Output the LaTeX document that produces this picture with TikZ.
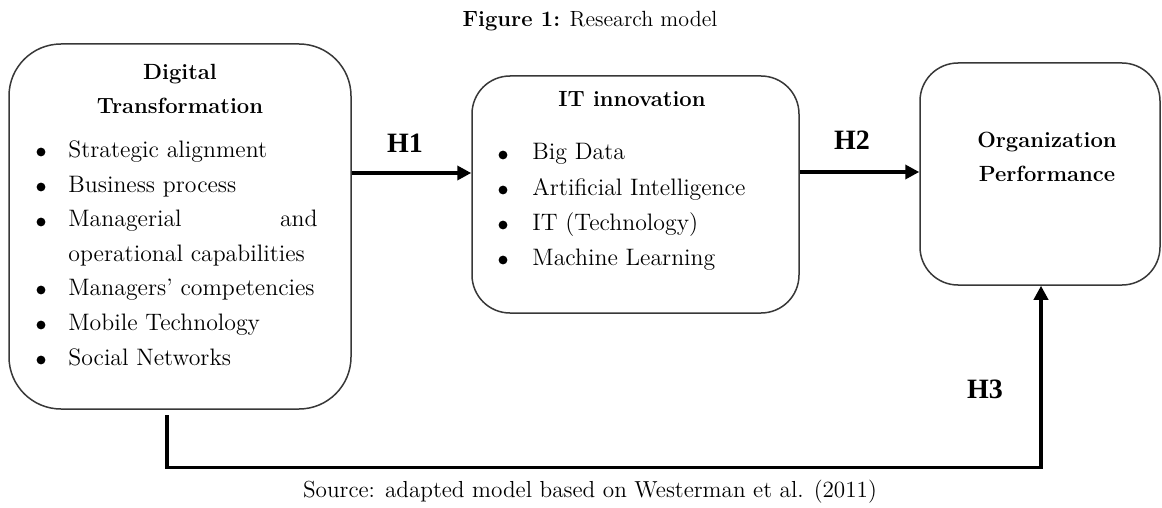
\documentclass[tikz,border=0pt]{standalone}
\usepackage{fontspec}
\newfontfamily\hfont{Liberation Serif}
\usetikzlibrary{arrows.meta}
\begin{document}
\begin{tikzpicture}[x=0.5pt,y=-0.5pt,
  box/.style={draw=black!78, line width=0.75pt, inner sep=0pt, rounded corners=#1},
  body/.style={font=\fontsize{11.9}{14}\selectfont, inner sep=0pt, anchor=base west},
  head/.style={font=\fontsize{11}{13}\selectfont\bfseries, inner sep=0pt, anchor=base},
  hyp/.style={font=\hfont\fontsize{14}{16}\selectfont\bfseries, inner sep=0pt, anchor=base},
  link/.style={line width=2pt, -{Triangle[length=7pt,width=7pt]}},
  route/.style={line width=1.8pt, -{Triangle[length=7pt,width=7pt]}}]
\useasboundingbox (0,0) rectangle (1162,508);

% caption
\node[inner sep=0pt, anchor=base, font=\fontsize{11}{13}\selectfont] (cap) at (590,27)
  {\textbf{Figure 1:} Research model};

% boxes
\node[box=26pt, minimum width=171pt, minimum height=182.5pt] (dt) at (180,226.5) {};
\node[box=19pt, minimum width=163.5pt, minimum height=118.5pt] (it) at (635.5,194.5) {};
\node[box=19pt, minimum width=120pt, minimum height=111pt] (op) at (1040,174) {};

% Digital Transformation
\node[head] (dt1) at (180,80) {Digital};
\node[head] (dt2) at (180,113) {Transformation};
\foreach \txt/\yy/\nm in {Strategic alignment/157/a1, Business process/192/a2,
    Managers’ competencies/295/a4, Mobile Technology/330/a5, Social Networks/365/a6}{
  \node[body] (\nm) at (68,\yy) {\txt};
  \fill ([shift={(-27,-5)}]\nm.base west) circle (2.2pt);
}
\node[body] (a3) at (68,227) {Managerial};
\node[body, anchor=base east] (a3b) at (318,227) {and};
\fill ([shift={(-27,-5)}]a3.base west) circle (2.2pt);
\node[body] (a3c) at (68,261) {operational capabilities};

% IT innovation
\node[head] (it1) at (632,107) {IT innovation};
\foreach \txt/\yy/\nm in {Big Data/160/b1, Artificial Intelligence/195/b2,
    IT (Technology)/230/b3, Machine Learning/265/b4}{
  \node[body] (\nm) at (532,\yy) {\txt};
  \fill ([shift={(-29,-5)}]\nm.base west) circle (2.2pt);
}

% Organization Performance
\node[head] (op1) at (1047,148) {Organization};
\node[head] (op2) at (1047,182) {Performance};

% hypotheses
\node[hyp] (h1) at (405,153) {H1};
\node[hyp] (h2) at (852,149) {H2};
\node[hyp] (h3) at (985,398) {H3};

\draw[link] (dt.east |- 0,173) -- (it.west |- 0,173);
\draw[link] (it.east |- 0,172) -- (op.west |- 0,172);

\coordinate (r0) at (167,415);
\coordinate (r1) at (167,467.5);
\coordinate (r2) at (1041,467.5);
\draw[route] (r0) -- (r1) -- (r2) -- (r2 |- op.south);

% source
\node[inner sep=0pt, anchor=base, font=\fontsize{11.6}{14}\selectfont] (src) at (590,497)
  {Source: adapted model based on Westerman et al. (2011)};
\end{tikzpicture}
\end{document}
